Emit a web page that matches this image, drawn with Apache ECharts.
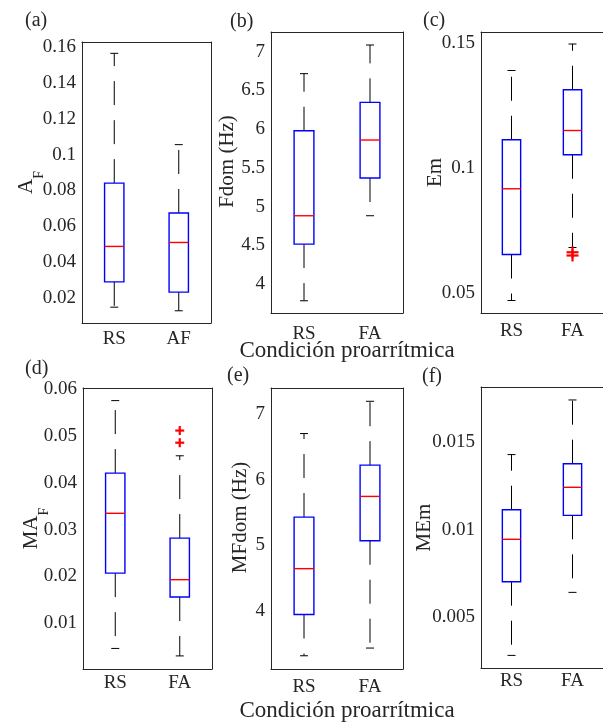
<!DOCTYPE html>
<html>
<head>
<meta charset="utf-8">
<script src="https://cdn.jsdelivr.net/npm/echarts@6/dist/echarts.min.js"></script>
<style>
  html, body { margin: 0; padding: 0; background: #fff; }
  #chart { width: 603px; height: 722px; }
</style>
</head>
<body>
<div id="chart"></div>
<script>
const catsAF = ["RS", "AF"];
const catsFA = ["RS", "FA"];

// [lowWhisker, q1, median, q3, highWhisker]
const afBoxes = [[0.0151, 0.0292, 0.0489, 0.0841, 0.1563], [0.0131, 0.0235, 0.0511, 0.0675, 0.1055]];
const fdomBoxes = [[3.783, 4.515, 4.881, 5.979, 6.716], [4.881, 5.368, 5.859, 6.345, 7.086]];
const emBoxes = [[0.047, 0.0654, 0.0917, 0.1113, 0.139], [0.0682, 0.1053, 0.115, 0.1313, 0.1496]];
const mafBoxes = [[0.0046, 0.0207, 0.0335, 0.0421, 0.0576], [0.003, 0.0156, 0.0193, 0.0282, 0.0458]];
const mfdomBoxes = [[3.309, 3.939, 4.64, 5.428, 6.704], [3.427, 5.067, 5.744, 6.221, 7.197]];
const memBoxes = [[0.00282, 0.00703, 0.00945, 0.01114, 0.01429], [0.00642, 0.01082, 0.01242, 0.01377, 0.01741]];

// outliers: [category index, value]
const emOutliers = [[1, 0.0663], [1, 0.065]];
const mafOutliers = [[1, 0.0512], [1, 0.0486]];

const afTicks = [0.02, 0.04, 0.06, 0.08, 0.1, 0.12, 0.14, 0.16];
const fdomTicks = [4, 4.5, 5, 5.5, 6, 6.5, 7];
const emTicks = [0.05, 0.1, 0.15];
const mafTicks = [0.01, 0.02, 0.03, 0.04, 0.05, 0.06];
const mfdomTicks = [4, 5, 6, 7];
const memTicks = [0.005, 0.01, 0.015];

const FONT = "Liberation Serif";
const INK = "#262626";

const panels = [
  { tag: "(a)", cats: catsAF, boxes: afBoxes, outliers: [], ticks: afTicks, min: 0.0063, max: 0.1626,
    name: "{n|A}{s|F}", grid: { left: 82, top: 42, width: 129, height: 281 }, nameGap: 39, namePad: 0, labMargin: 7, mark: 10 },
  { tag: "(b)", cats: catsFA, boxes: fdomBoxes, outliers: [], ticks: fdomTicks, min: 3.625, max: 7.254,
    name: "{n|Fdom (Hz)}", grid: { left: 271, top: 32, width: 132, height: 281 }, nameGap: 27, namePad: 22, labMargin: 12, mark: 10 },
  { tag: "(c)", cats: catsFA, boxes: emBoxes, outliers: emOutliers, ticks: emTicks, min: 0.042, max: 0.1544,
    name: "{n|Em}", grid: { left: 481, top: 32, width: 123, height: 281 }, nameGap: 29, namePad: 0, labMargin: 9, mark: 12 },
  { tag: "(d)", cats: catsFA, boxes: mafBoxes, outliers: mafOutliers, ticks: mafTicks, min: 0.0002, max: 0.0603,
    name: "{n|MA}{s|F}", grid: { left: 83, top: 388, width: 129, height: 281 }, nameGap: 35, namePad: 0, labMargin: 5, mark: 9 },
  { tag: "(e)", cats: catsFA, boxes: mfdomBoxes, outliers: [], ticks: mfdomTicks, min: 3.107, max: 7.4,
    name: "{n|MFdom (Hz)}", grid: { left: 271, top: 388, width: 132, height: 281 }, nameGap: 14, namePad: 22, labMargin: 9, mark: 10 },
  { tag: "(f)", cats: catsFA, boxes: memBoxes, outliers: [], ticks: memTicks, min: 0.0021, max: 0.01815,
    name: "{n|MEm}", grid: { left: 481, top: 387, width: 123, height: 281 }, nameGap: 40, namePad: 0, labMargin: 4, mark: 10 }
];

const tagPos = [[36, 22], [241, 23], [434, 22], [36, 370], [238, 377], [433, 378]];

function renderBox(params, api) {
  const i = api.value(0);
  const catW = api.size([1, 0])[0];
  const half = catW * 0.15;
  const cap = 4;
  const c = api.coord([i, api.value(3)]);
  const x = c[0];
  const yLow = api.coord([i, api.value(1)])[1];
  const yQ1 = api.coord([i, api.value(2)])[1];
  const yMed = c[1];
  const yQ3 = api.coord([i, api.value(4)])[1];
  const yHigh = api.coord([i, api.value(5)])[1];
  const dash = { stroke: "#000", lineWidth: 1, lineDash: [24, 15] };
  const solid = { stroke: "#000", lineWidth: 1 };
  return {
    type: "group",
    children: [
      { type: "line", shape: { x1: x, y1: yQ3, x2: x, y2: yHigh }, style: dash },
      { type: "line", shape: { x1: x, y1: yQ1, x2: x, y2: yLow }, style: dash },
      { type: "line", shape: { x1: x - cap, y1: yHigh, x2: x + cap, y2: yHigh }, style: solid },
      { type: "line", shape: { x1: x - cap, y1: yLow, x2: x + cap, y2: yLow }, style: solid },
      { type: "rect", shape: { x: x - half, y: yQ3, width: half * 2, height: yQ1 - yQ3 },
        style: { fill: "none", stroke: "#0000ff", lineWidth: 1.4 } },
      { type: "line", shape: { x1: x - half, y1: yMed, x2: x + half, y2: yMed },
        style: { stroke: "#ff0000", lineWidth: 1.4 } }
    ]
  };
}

function outlierRenderer(size) {
  return function (params, api) {
    const p = api.coord([api.value(0), api.value(1)]);
    const h = size / 2;
    const st = { stroke: "#ff0000", lineWidth: 2.2 };
    return {
      type: "group",
      children: [
        { type: "line", shape: { x1: p[0] - h, y1: p[1], x2: p[0] + h, y2: p[1] }, style: st },
        { type: "line", shape: { x1: p[0], y1: p[1] - h, x2: p[0], y2: p[1] + h }, style: st }
      ]
    };
  };
}

const grids = [], xAxes = [], yAxes = [], series = [];
panels.forEach((p, k) => {
  grids.push(Object.assign({ containLabel: false }, p.grid));
  const lineStyle = { color: INK, width: 1 };
  xAxes.push({
    type: "category", gridIndex: k, data: p.cats, position: "bottom",
    axisLine: { lineStyle }, axisTick: { inside: true, alignWithLabel: true, length: 4, lineStyle },
    axisLabel: { color: INK, fontFamily: FONT, fontSize: 19, margin: p.labMargin },
    splitLine: { show: false }
  });
  xAxes.push({
    type: "category", gridIndex: k, data: p.cats, position: "top",
    axisLine: { lineStyle }, axisTick: { inside: true, alignWithLabel: true, length: 4, lineStyle },
    axisLabel: { show: false }, splitLine: { show: false }
  });
  yAxes.push({
    type: "value", gridIndex: k, min: p.min, max: p.max, position: "left",
    name: p.name, nameLocation: "middle", nameGap: p.nameGap, nameRotate: 90, nameMoveOverlap: false,
    nameTextStyle: {
      color: INK, fontFamily: FONT, padding: [0, 0, 0, p.namePad],
      rich: {
        n: { fontFamily: FONT, fontSize: 21, color: INK, lineHeight: 27, verticalAlign: "top" },
        s: { fontFamily: FONT, fontSize: 14, color: INK, lineHeight: 14, padding: [16, 0, 0, 0], verticalAlign: "top" }
      }
    },
    axisLine: { show: true, lineStyle },
    axisTick: { inside: true, length: 4, lineStyle, customValues: p.ticks },
    axisLabel: { color: INK, fontFamily: FONT, fontSize: 19, margin: 6, customValues: p.ticks,
      formatter: v => String(+v.toFixed(4)) },
    splitLine: { show: false }
  });
  yAxes.push({
    type: "value", gridIndex: k, min: p.min, max: p.max, position: "right",
    axisLine: { show: true, lineStyle },
    axisTick: { inside: true, length: 4, lineStyle, customValues: p.ticks },
    axisLabel: { show: false }, splitLine: { show: false }
  });
  series.push({
    type: "custom", xAxisIndex: 2 * k, yAxisIndex: 2 * k,
    data: p.boxes.map((b, i) => [i].concat(b)),
    encode: { x: 0, y: [1, 2, 3, 4, 5] },
    renderItem: renderBox, silent: true
  });
  if (p.outliers.length) {
    series.push({
      type: "custom", xAxisIndex: 2 * k, yAxisIndex: 2 * k,
      data: p.outliers, encode: { x: 0, y: 1 },
      renderItem: outlierRenderer(p.mark), silent: true
    });
  }
});

const texts = panels.map((p, k) => ({
  type: "text", left: tagPos[k][0] - 11, top: tagPos[k][1] - 11,
  style: { text: p.tag, fill: INK, font: "20px '" + FONT + "'" }
}));
texts.push({ type: "text", x: 347, y: 351,
  style: { text: "Condición proarrítmica", fill: INK, font: "23px '" + FONT + "'", align: "center", verticalAlign: "middle" } });
texts.push({ type: "text", x: 347, y: 711,
  style: { text: "Condición proarrítmica", fill: INK, font: "23px '" + FONT + "'", align: "center", verticalAlign: "middle" } });

const chart = echarts.init(document.getElementById("chart"));
chart.setOption({
  animation: false,
  backgroundColor: "#fff",
  grid: grids,
  xAxis: xAxes,
  yAxis: yAxes,
  series: series,
  graphic: texts
});
</script>
</body>
</html>
